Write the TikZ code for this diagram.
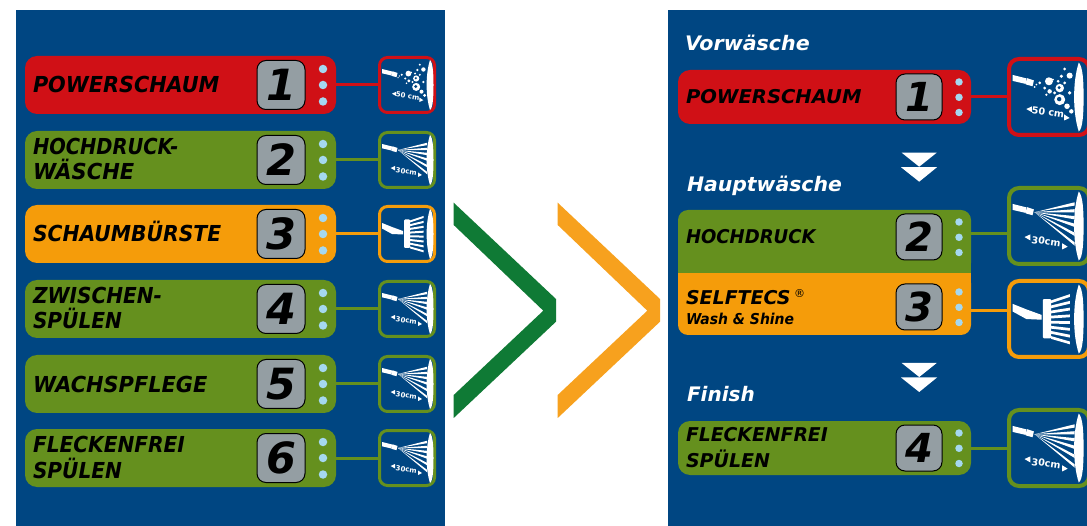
\documentclass[tikz,border=0pt]{standalone}
\usepackage{fontspec}
\setmainfont{DejaVu Sans}
\definecolor{panelblue}{HTML}{004682}
\definecolor{stagered}{HTML}{D01016}
\definecolor{stagegreen}{HTML}{65901E}
\definecolor{stageorange}{HTML}{F59C0A}
\definecolor{dotblue}{HTML}{A5D8F0}
\definecolor{boxgrey}{HTML}{949EA3}
\definecolor{chevgreen}{HTML}{0F7A35}
\definecolor{chevorange}{HTML}{F7A11E}
\newcommand{\iconlens}{\fill[white] (52,4) .. controls (47.5,18) and (47.5,40) .. (52,54) .. controls (55,52) and (55.5,40) .. (55.5,29) .. controls (55.5,18) and (55,7) .. (52,4) -- cycle;}
\newcommand{\iconnozzle}{%
  \fill[white] (4,13) -- (14,15.5) -- (13.5,19.5) -- (4,17.3) -- cycle;
  \fill[white] (14.4,15.3) -- (19.5,17) -- (18.5,21.2) -- (13.4,19.8) -- cycle;}
\newcommand{\iconspray}{%
  \iconlens\iconnozzle
  \foreach \rayend in {13,18,23,28.5,35,42}{
    \fill[white] (20,19) -- (49,\rayend-1.2) -- (49,\rayend+1.2) -- cycle;
  }
  \fill[white] (12.7,37) -- (17,35) -- (17,39.5) -- cycle;
  \fill[white] (44,44) -- (40,41.5) -- (40,46) -- cycle;
  \node[icontextstyle] at (28.3,40.3) {30cm};}
\newcommand{\iconfoam}{%
  \iconlens\iconnozzle
  \foreach \bx/\by/\br in {30.4/17.6/2.9,38.2/22.5/3.1,38.2/30.9/4,45.4/13.5/2.2,39.4/14/1.3,41.8/8.7/1.1,43.5/35.7/2,46.6/39.4/1.6,23.7/18.8/1.1,27.3/22.5/1.1,30.9/24.9/1.6,34.5/26/1.1,21.3/20/.7,20/21.7/.7,37/17.6/1.1,41.8/18.8/1.1,45.4/26/1.3,33.3/16.4/.8,28.5/27.3/.9}{
    \fill[white] (\bx,\by) circle[radius=\br];
  }
  \fill[panelblue] (37.8,22.2) circle[radius=1.2];
  \fill[panelblue] (37.8,30.5) circle[radius=1.6];
  \fill[white] (14,37.7) -- (18,35.8) -- (18,40) -- cycle;
  \fill[white] (45.4,44.2) -- (41.4,41.6) -- (41.4,46) -- cycle;
  \node[icontextstyle] at (29.7,39.9) {50 cm};}
\newcommand{\iconbrush}{%
  \iconlens
  \fill[white] (4,18) -- (14,22) -- (25,26) -- (25,29.5) -- (14,29) -- (4,23.5) -- cycle;
  \fill[white,rounded corners=1pt] (26,14.5) rectangle (32,43);
  \foreach \barno in {0,...,7}{
    \fill[white] (32,{15.5+\barno*3.7}) -- (45.5,{11+\barno*4.9}) -- (45.5,{13+\barno*4.9}) -- (32,{17.5+\barno*3.7}) -- cycle;
  }}
\begin{document}
\begin{tikzpicture}[x=1pt,y=-1pt,
  pillstyle/.style={rounded corners=12pt,inner sep=0,outer sep=0,minimum width=#1,anchor=north west},
  numboxstyle/.style={draw=black,line width=1pt,fill=boxgrey,rounded corners=9pt,inner sep=0,outer sep=0,text=black},
  iconastyle/.style={draw=#1,fill=panelblue,line width=3pt,rounded corners=8pt,inner sep=0,outer sep=0,minimum width=55pt,minimum height=55pt,anchor=north west},
  iconbstyle/.style={draw=#1,fill=panelblue,line width=4pt,rounded corners=10pt,inner sep=0,outer sep=0,minimum width=80pt,minimum height=76pt,anchor=north west},
  labelstyle/.style={inner sep=0,outer sep=0,anchor=base west,text=black,xscale=#1,transform shape,font=\fontsize{22}{22}\selectfont\bfseries\itshape},
  labelrstyle/.style={inner sep=0,outer sep=0,anchor=base west,text=black,xscale=#1,transform shape,font=\fontsize{19}{19}\selectfont\bfseries\itshape},
  headingstyle/.style={inner sep=0,outer sep=0,anchor=base west,text=white,xscale=#1,transform shape,font=\fontsize{20}{20}\selectfont\bfseries\itshape},
  dotstyle/.style={circle,fill=dotblue,inner sep=0,outer sep=0,minimum size=#1},
  connstyle/.style={line width=3pt},
  icontextstyle/.style={text=white,inner sep=0,font=\fontsize{7}{7}\selectfont\bfseries,rotate=-8,transform shape}]
\useasboundingbox (0,0) rectangle (1087,526);
\fill[white] (0,0) rectangle (1087,526);
\fill[panelblue] (16,10) rectangle (445,526);
\fill[panelblue] (668,10) rectangle (1087,526);
% left column
\foreach \rown/\rowy/\rowcol/\rowicon/\rowdigit in {1/56/stagered/\iconfoam/1,2/131/stagegreen/\iconspray/2,3/205/stageorange/\iconbrush/3,4/280/stagegreen/\iconspray/4,5/355/stagegreen/\iconspray/5,6/429/stagegreen/\iconspray/6}{
  \node[pillstyle=311pt,minimum height=58pt,fill=\rowcol] (L\rown) at (25,\rowy) {};
  \node[numboxstyle,minimum width=48pt,minimum height=49pt,font=\fontsize{43}{43}\selectfont\bfseries\itshape] (LN\rown) at (281,\rowy+29) {\rowdigit};
  \node[dotstyle=8.5pt] (LDa\rown) at (323,\rowy+13) {};
  \node[dotstyle=8.5pt] (LDb\rown) at (323,\rowy+29) {};
  \node[dotstyle=8.5pt] (LDc\rown) at (323,\rowy+45.5) {};
  \node[iconastyle=\rowcol] (LI\rown) at (379.5,\rowy+1.5) {};
  \draw[connstyle,draw=\rowcol] (L\rown.east) -- (LI\rown.west);
  \begin{scope}[shift={(378,\rowy)}]\rowicon\end{scope}
}
\node[labelstyle=.945] (a1) at (33,93) {POWERSCHAUM};
\node[labelstyle=.885] (a2) at (33,155) {HOCHDRUCK-};
\node[labelstyle=.956] (a3) at (33,180) {WÄSCHE};
\node[labelstyle=.924] (a4) at (33,242) {SCHAUMBÜRSTE};
\node[labelstyle=.912] (a5) at (33,304) {ZWISCHEN-};
\node[labelstyle=.915] (a6) at (33,329) {SPÜLEN};
\node[labelstyle=.95] (a7) at (33,392) {WACHSPFLEGE};
\node[labelstyle=.916] (a8) at (33,453) {FLECKENFREI};
\node[labelstyle=.915] (a9) at (33,478) {SPÜLEN};
% right column: red pill
\node[pillstyle=293pt,minimum height=54pt,fill=stagered] (R1) at (678,70) {};
\node[iconbstyle=stagered] (RI1) at (1009,59) {};
\draw[connstyle,draw=stagered] (R1.east) -- (RI1.west);
\begin{scope}[shift={(1007,57)},scale=1.38]\iconfoam\end{scope}
% merged green and orange
\fill[stagegreen,rounded corners=10pt] (678,273) -- (678,210) -- (971,210) -- (971,273) -- cycle;
\fill[stageorange,rounded corners=10pt] (678,273) -- (678,335) -- (971,335) -- (971,273) -- cycle;
\fill[stagegreen] (678,255) rectangle (971,273);
\fill[stageorange] (678,273) rectangle (971,290);
\coordinate (Ge) at (971,233.5);
\coordinate (Oe) at (971,311);
\node[iconbstyle=stagegreen] (RI2) at (1009,188) {};
\node[iconbstyle=stageorange] (RI3) at (1009,281) {};
\draw[connstyle,draw=stagegreen] (Ge) -- (RI2.west |- Ge);
\draw[connstyle,draw=stageorange] (Oe) -- (RI3.west |- Oe);
\begin{scope}[shift={(1007,186)},scale=1.38]\iconspray\end{scope}
\begin{scope}[shift={(1007,279)},scale=1.38]\iconbrush\end{scope}
% finish pill
\node[pillstyle=293pt,minimum height=54pt,fill=stagegreen] (R4) at (678,421) {};
\node[iconbstyle=stagegreen] (RI4) at (1009,410) {};
\draw[connstyle,draw=stagegreen] (R4.east) -- (RI4.west);
\begin{scope}[shift={(1007,408)},scale=1.38]\iconspray\end{scope}
% number boxes and dots on the right
\foreach \rown/\rowy/\rowdigit in {1/74/1,2/214/2,3/284/3,4/425/4}{
  \node[numboxstyle,minimum width=46pt,minimum height=46pt,anchor=north,font=\fontsize{40}{40}\selectfont\bfseries\itshape] (RN\rown) at (919,\rowy) {\rowdigit};
  \node[dotstyle=7.5pt] (RDa\rown) at (959,\rowy+8) {};
  \node[dotstyle=7.5pt] (RDb\rown) at (959,\rowy+23.3) {};
  \node[dotstyle=7.5pt] (RDc\rown) at (959,\rowy+38.5) {};
}
% right texts
\node[labelrstyle=1.03] (b1) at (686,104) {POWERSCHAUM};
\node[labelrstyle=.95] (b2) at (686,244) {HOCHDRUCK};
\node[labelrstyle=1] (b3) at (686,304.5) {SELFTECS};
\node[inner sep=0,anchor=base west,text=black,font=\fontsize{11}{11}\selectfont\itshape] (b3r) at (794,298) {®};
\node[labelrstyle=.93,font=\fontsize{15}{15}\selectfont\bfseries\itshape] (b4) at (686,325) {Wash \& Shine};
\node[labelrstyle=.99] (b5) at (686,442) {FLECKENFREI};
\node[labelrstyle=1] (b6) at (686,467) {SPÜLEN};
\node[headingstyle=1.03] (h1) at (685,50.7) {Vorwäsche};
\node[headingstyle=1.02] (h2) at (687,191.7) {Hauptwäsche};
\node[headingstyle=1] (h3) at (687,402) {Finish};
% double arrows
\foreach \arry in {152.7,363}{
  \fill[white] (901.7,\arry) -- (936.7,\arry) -- (919.2,\arry+14) -- cycle;
  \fill[white] (901,\arry+14.5) -- (937,\arry+14.5) -- (919.2,\arry+29) -- cycle;
}
% chevrons
\fill[chevgreen] (453.7,202.7) -- (556,299) -- (556,321.7) -- (453.7,418) -- (453.7,395) -- (543.3,310.7) -- (453.7,225) -- cycle;
\fill[chevorange] (557.7,202.7) -- (660,299) -- (660,321.7) -- (557.7,418) -- (557.7,395) -- (647.3,310.7) -- (557.7,225) -- cycle;
\end{tikzpicture}
\end{document}
